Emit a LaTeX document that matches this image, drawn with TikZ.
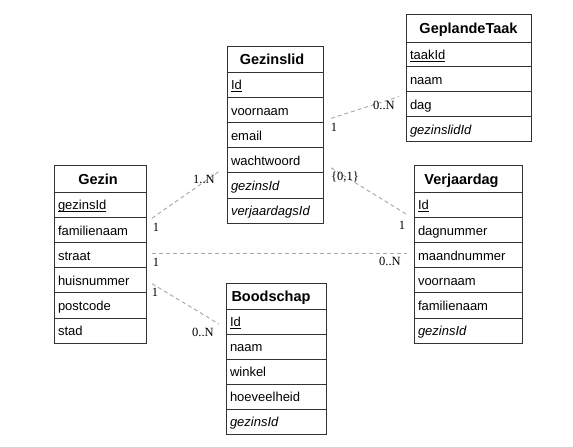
\documentclass[tikz,border=0pt]{standalone}
\usepackage{fontspec}
\setmainfont{Liberation Serif}
\setsansfont{Liberation Sans}
\newcommand{\pkul}[1]{\setbox0\hbox{#1}\rlap{\rule[-2.2pt]{\wd0}{0.9pt}}\box0}
\definecolor{boxline}{HTML}{333333}
\definecolor{connc}{HTML}{A6A6A6}
\begin{document}
\begin{tikzpicture}[x=1pt,y=-1pt,
 ent/.style={draw=boxline, line width=1pt, fill=white, anchor=north west, inner sep=0pt, outer sep=0pt},
 hdr/.style={ent, font=\sffamily\bfseries\fontsize{14.5}{16}\selectfont, text height=14.5pt, text depth=3pt},
 fld/.style={ent, font=\sffamily\fontsize{13}{15}\selectfont, align=left, inner xsep=4pt, text height=13.5pt, text depth=3pt, minimum height=25.2pt},
 conn/.style={draw=connc, line width=0.9pt, dash pattern=on 4pt off 3pt},
 mult/.style={font=\rmfamily\fontsize{12.5}{14}\selectfont, inner sep=0pt}
]
\fill[white] (0,0) rectangle (573,447);
\useasboundingbox (0,0) rectangle (573,447);

% Gezin
\node[hdr, minimum width=92pt, minimum height=27pt] (gz0) at (54,165) {Gezin\hspace*{4pt}};
\foreach \t [count=\i, evaluate=\i as \j using int(\i-1)] in {\pkul{gezinsId}, familienaam, straat, huisnummer, postcode, stad}
  \node[fld, text width=84pt] (gz\i) at (gz\j.south west) {\t};

% Gezinslid
\node[hdr, minimum width=96pt, minimum height=26pt] (gl0) at (227,46) {Gezinslid\hspace*{6pt}};
\foreach \t [count=\i, evaluate=\i as \j using int(\i-1)] in {\pkul{Id}, voornaam, email, wachtwoord, {\itshape gezinsId}, {\itshape verjaardagsId}}
  \node[fld, text width=88pt] (gl\i) at (gl\j.south west) {\t};

% GeplandeTaak
\node[hdr, minimum width=125pt, minimum height=28pt] (gt0) at (406,14) {GeplandeTaak};
\foreach \t [count=\i, evaluate=\i as \j using int(\i-1)] in {\pkul{taakId}, naam, dag, {\itshape gezinslidId}}
  \node[fld, text width=117pt, minimum height=24.8pt] (gt\i) at (gt\j.south west) {\t};

% Verjaardag
\node[hdr, minimum width=108pt, minimum height=27pt] (vj0) at (414,165) {Verjaardag\hspace*{13pt}};
\foreach \t [count=\i, evaluate=\i as \j using int(\i-1)] in {\pkul{Id}, dagnummer, maandnummer, voornaam, familienaam, {\itshape gezinsId}}
  \node[fld, text width=100pt] (vj\i) at (vj\j.south west) {\t};

% Boodschap
\node[hdr, minimum width=100pt, minimum height=26pt] (bs0) at (226,283) {Boodschap\hspace*{10pt}};
\foreach \t [count=\i, evaluate=\i as \j using int(\i-1)] in {\pkul{Id}, naam, winkel, hoeveelheid, {\itshape gezinsId}}
  \node[fld, text width=92pt, minimum height=25pt] (bs\i) at (bs\j.south west) {\t};

% connector end points
\coordinate (c1a) at ([shift={(6,1)}]gz2.north east);
\coordinate (c1b) at ([shift={(-7,-2)}]gl5.north west);
\coordinate (c2a) at ([shift={(6,-2)}]gz3.east);
\coordinate (c2b) at ([shift={(-7,-2)}]vj3.west);
\coordinate (c3a) at ([shift={(6,3.5)}]gz4.east);
\coordinate (c3b) at ([shift={(-7,2.5)}]bs1.west);
\coordinate (c4a) at ([shift={(8,-4)}]gl3.north east);
\coordinate (c4b) at ([shift={(-7,5)}]gt3.north west);
\coordinate (c5a) at ([shift={(8,-5)}]gl4.south east);
\coordinate (c5b) at ([shift={(-6,-2)}]vj1.south west);

\draw[conn] (c1a) -- (c1b);
\draw[conn] (c2a) -- (c2b);
\draw[conn] (c3a) -- (c3b);
\draw[conn] (c4a) -- (c4b);
\draw[conn] (c5a) -- (c5b);

% multiplicities
\node[mult] (m1a) at (156,227) {1};
\node[mult] (m1b) at (204,179) {1..N};
\node[mult] (m2a) at (156,262) {1};
\node[mult] (m2b) at (390,261) {0..N};
\node[mult] (m3a) at (155,292) {1};
\node[mult] (m3b) at (203,332) {0..N};
\node[mult] (m4a) at (334,127) {1};
\node[mult] (m4b) at (384,105) {0..N};
\node[mult] (m5a) at (345,177) {\{0,1\}};
\node[mult] (m5b) at (402,225) {1};
\end{tikzpicture}
\end{document}
